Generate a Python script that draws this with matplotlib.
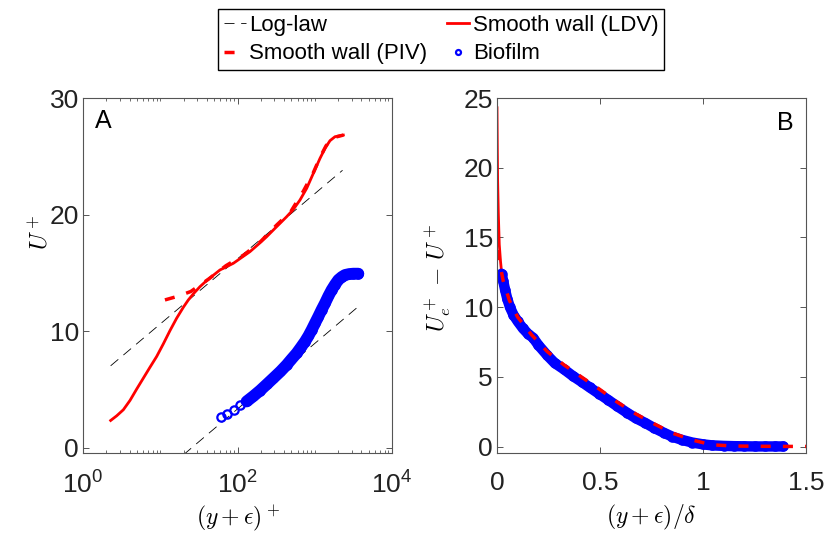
import matplotlib
matplotlib.use('Agg')
import matplotlib.pyplot as plt
from matplotlib.ticker import FixedLocator, NullFormatter

plt.rcParams['font.family'] = ['Liberation Sans', 'DejaVu Sans']
plt.rcParams['mathtext.fontset'] = 'cm'

# ---- panel A : inner scaling ----
loglaw_x = [2.28, 2290]
loglaw_u = [7.03, 23.8]
loglaw_shift_x = [20, 3500]
loglaw_shift_u = [-0.6, 12.0]

ldv_yp = [2.28, 2.73, 3.33, 4.06, 4.95, 6.04, 7.37, 8.99, 10.96, 13.37, 16.3, 19.9, 23.1,
          26.8, 32.7, 39.9, 59.3, 88.3, 145, 186, 239, 291, 355, 433, 529, 644, 786, 959,
          1169, 1358, 1575, 1828, 2344]
ldv_u = [2.34, 2.74, 3.26, 4.06, 5.03, 5.97, 6.91, 7.83, 8.91, 10.05, 11.11, 12.05, 12.68,
         13.2, 13.82, 14.34, 15.25, 15.82, 16.82, 17.45, 18.11, 18.68, 19.25, 19.82, 20.45,
         21.25, 22.25, 23.54, 24.82, 25.68, 26.34, 26.68, 26.82]

piv_yp = [11.5, 17, 24.8, 41.9, 71, 121, 200, 321, 489, 711, 959, 1169, 1400, 1740, 2344]
piv_u = [12.68, 13.0, 13.4, 14.45, 15.62, 16.54, 17.7, 19.1, 20.25, 22.0, 23.6, 24.9,
         25.9, 26.6, 26.82]

bio_yp = [61, 74, 90, 108, 131, 160, 196, 240, 291, 360, 433, 500, 583, 660, 748, 830,
          912, 1010, 1112, 1230, 1358, 1500, 1656, 1830, 2020, 2240, 2466, 2800, 3162, 3670]
bio_u = [2.63, 2.91, 3.26, 3.63, 3.97, 4.42, 4.91, 5.45, 5.97, 6.55, 7.11, 7.6, 8.11, 8.6,
         9.11, 9.6, 10.11, 10.7, 11.25, 11.85, 12.4, 13.0, 13.54, 14.0, 14.4, 14.65, 14.82,
         14.9, 14.93, 14.93]

# ---- panel B : outer (defect) scaling ----
ldv_eta = [0.0, 0.0015, 0.003, 0.0065, 0.011, 0.017, 0.023, 0.035]
ldv_def = [24.3, 21.5, 19.1, 16.7, 14.5, 13.3, 12.4, 11.4]

piv_eta = [0.006, 0.015, 0.03, 0.06, 0.1, 0.168, 0.244, 0.325, 0.411, 0.495, 0.584,
           0.673, 0.762, 0.851, 0.948, 1.042, 1.15, 1.3, 1.45, 1.55]
piv_def = [14.1, 13.0, 11.9, 10.5, 9.3, 8.02, 6.82, 5.87, 4.99, 4.15, 3.20, 2.36, 1.65,
           0.98, 0.48, 0.14, 0.05, 0.03, 0.02, 0.02]

bio_eta = [0.015, 0.022, 0.03, 0.04, 0.05, 0.063, 0.08, 0.1, 0.125, 0.15, 0.176, 0.2,
           0.244, 0.28, 0.325, 0.37, 0.411, 0.45, 0.495, 0.54, 0.584, 0.63, 0.673, 0.72,
           0.762, 0.81, 0.851, 0.9, 0.948, 1.0, 1.042, 1.1, 1.15, 1.2, 1.25, 1.3, 1.35, 1.39]
bio_def = [12.3, 12.4, 11.9, 11.2, 10.6, 10.0, 9.45, 9.0, 8.5, 8.1, 7.8, 7.3, 6.55, 6.0,
           5.55, 5.05, 4.65, 4.25, 3.8, 3.35, 2.9, 2.45, 2.05, 1.7, 1.35, 1.0, 0.72, 0.48,
           0.3, 0.17, 0.1, 0.06, 0.04, 0.03, 0.02, 0.02, 0.02, 0.02]

RED = '#ff0000'
BLUE = '#0000ff'
W, H = 825, 536

fig = plt.figure(figsize=(W / 100, H / 100), dpi=100)
axA = fig.add_axes([83 / W, 1 - 453 / H, 309 / W, 355 / H])
axB = fig.add_axes([497 / W, 1 - 453 / H, 309 / W, 355 / H])


def style(ax):
    for s in ax.spines.values():
        s.set_color('#555555')
        s.set_linewidth(0.8)
    ax.tick_params(which='both', direction='in', top=True, right=True,
                   color='#555555', labelsize=19, labelcolor='#222222')
    ax.tick_params(axis='x', pad=13)
    ax.tick_params(axis='y', pad=3)
    ax.tick_params(which='major', length=4, width=0.7)
    ax.tick_params(which='minor', length=2.5, width=0.6)


# panel A
ll, = axA.plot(loglaw_x, loglaw_u, color='k', lw=0.6, dashes=(12, 8))
axA.plot(loglaw_shift_x, loglaw_shift_u, color='k', lw=0.6, dashes=(12, 8))
ldv, = axA.plot(ldv_yp, ldv_u, color=RED, lw=2)
piv, = axA.plot(piv_yp, piv_u, color=RED, lw=2.5, dashes=(2.9, 3.5))
axA.plot(bio_yp[4:], bio_u[4:], color=BLUE, lw=8.5, solid_capstyle='round')
bio, = axA.plot(bio_yp, bio_u, ls='none', marker='o', ms=6, mew=1.6,
                mfc='none', mec=BLUE)
axA.set_xscale('log')
axA.set_xlim(1, 1e4)
axA.set_ylim(-0.45, 30)
axA.set_yticks([0, 10, 20, 30])
axA.xaxis.set_major_locator(FixedLocator([1, 100, 1e4]))
minors = [m * 10 ** k for k in range(4) for m in range(1, 10) if not (m == 1 and k % 2 == 0)]
axA.xaxis.set_minor_locator(FixedLocator(minors))
axA.xaxis.set_minor_formatter(NullFormatter())
axA.set_xticklabels([r'$\mathdefault{10^{0}}$', r'$\mathdefault{10^{2}}$',
                     r'$\mathdefault{10^{4}}$'])
style(axA)
axA.set_xlabel(r'$(y+\epsilon)^+$', fontsize=17)
axA.xaxis.set_label_coords(0.5, (453 - 503) / 355)
axA.set_ylabel(r'$U^+$', fontsize=17)
axA.yaxis.set_label_coords((52 - 83) / 309, (453 - 232) / 355)
axA.text(0.065, 0.935, 'A', transform=axA.transAxes, fontsize=18,
         ha='center', va='center')

# panel B
axB.plot(ldv_eta, ldv_def, color=RED, lw=2)
axB.plot(bio_eta, bio_def, color=BLUE, lw=7.5, solid_capstyle='round')
axB.plot(bio_eta, bio_def, ls='none', marker='o', ms=6, mew=1.6,
         mfc='none', mec=BLUE)
axB.plot(piv_eta, piv_def, color=RED, lw=2.5, dashes=(2.9, 3.5))
axB.set_xlim(0, 1.5)
axB.set_ylim(-0.45, 25)
axB.set_xticks([0, 0.5, 1, 1.5])
axB.set_xticklabels(['0', '0.5', '1', '1.5'])
axB.set_yticks([0, 5, 10, 15, 20, 25])
style(axB)
axB.set_xlabel(r'$(y+\epsilon)/\delta$', fontsize=17)
axB.xaxis.set_label_coords(0.5, (453 - 503) / 355)
axB.set_ylabel(r'$U_e^+ \,-\, U^+$', fontsize=17)
axB.yaxis.set_label_coords((453 - 497) / 309, (453 - 278) / 355)
axB.text(0.932, 0.93, 'B', transform=axB.transAxes, fontsize=18,
         ha='center', va='center')

leg = fig.legend([ll, piv, ldv, bio],
                 ['Log-law', 'Smooth wall (PIV)', 'Smooth wall (LDV)', 'Biofilm'],
                 loc='upper center', bbox_to_anchor=(441 / W, 1 - 9 / H), ncol=2,
                 fontsize=16, handlelength=1.0, handletextpad=0.15, columnspacing=0.9,
                 borderpad=0.25, labelspacing=0.35, borderaxespad=0, markerscale=0.6,
                 fancybox=False, framealpha=1, edgecolor='k')
leg.get_frame().set_linewidth(1.0)

fig.savefig('out.png', dpi=100)
